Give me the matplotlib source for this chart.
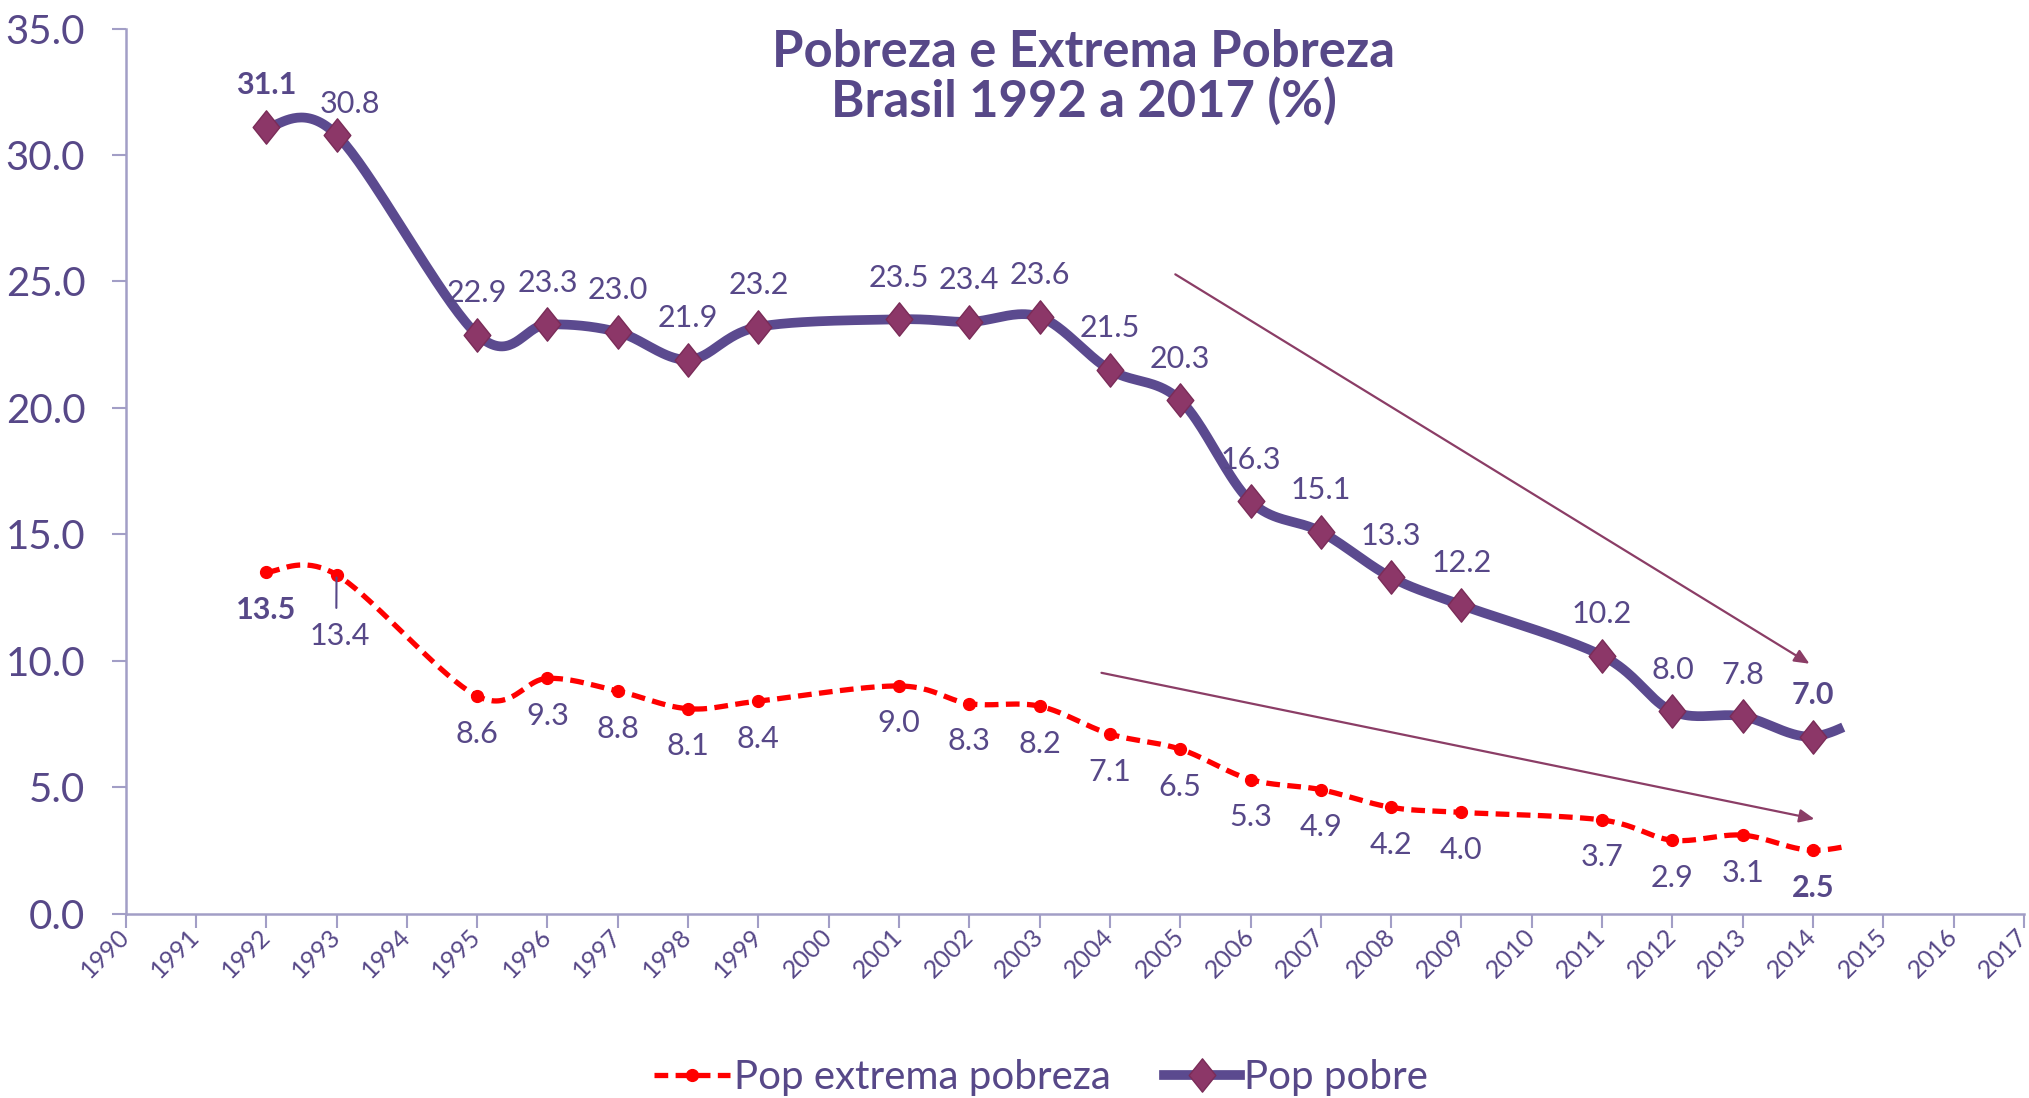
import numpy as np
import matplotlib
matplotlib.use('Agg')
import matplotlib.pyplot as plt
from matplotlib.lines import Line2D
from matplotlib.path import Path

plt.rcParams['font.family'] = ['Lato', 'DejaVu Sans']

# data
years = list(range(1990, 2018))
pobre_years = [1992, 1993, 1995, 1996, 1997, 1998, 1999, 2001, 2002, 2003, 2004,
               2005, 2006, 2007, 2008, 2009, 2011, 2012, 2013, 2014, 2015]
pop_pobre = [31.1, 30.8, 22.9, 23.3, 23.0, 21.9, 23.2, 23.5, 23.4, 23.6, 21.5,
             20.3, 16.3, 15.1, 13.3, 12.2, 10.2, 8.0, 7.8, 7.0, 8.2]
pop_extrema = [13.5, 13.4, 8.6, 9.3, 8.8, 8.1, 8.4, 9.0, 8.3, 8.2, 7.1,
               6.5, 5.3, 4.9, 4.2, 4.0, 3.7, 2.9, 3.1, 2.5, 3.0]
# the 2015 point is not shown, only the start of the curve towards it
last_shown = 2014
bold_years = [1992, 2014]

purple = '#574888'
line_purple = '#5B4A8F'
marker_col = '#8C3768'
red = '#FF0000'
axis_col = '#A29EC6'
arrow_col = '#8B3D66'


def smooth(xs, ys, n=40):
    # excel-like smoothed line (bezier through the points)
    pts = np.column_stack([xs, ys]).astype(float)
    out = []
    for i in range(len(pts) - 1):
        p0 = pts[i - 1] if i > 0 else pts[i]
        p1 = pts[i]
        p2 = pts[i + 1]
        p3 = pts[i + 2] if i + 2 < len(pts) else pts[i + 1]
        c1 = p1 + (p2 - p0) / 6
        c2 = p2 - (p3 - p1) / 6
        t = np.linspace(0, 1, n)[:, None]
        seg = (1 - t)**3 * p1 + 3 * (1 - t)**2 * t * c1 + 3 * (1 - t) * t**2 * c2 + t**3 * p2
        out.append(seg)
    return np.vstack(out)


xi = np.array([y - years[0] for y in pobre_years])
shown = np.array([y <= last_shown for y in pobre_years])
stub_end = (last_shown - years[0]) + 0.44

fig = plt.figure(figsize=(20.29, 10.98), dpi=100)
ax = fig.add_axes([0.0619, 0.168, 0.9356, 0.806])

diamond = Path([(0, 1), (0.8, 0), (0, -1), (-0.8, 0), (0, 1)],
               [Path.MOVETO, Path.LINETO, Path.LINETO, Path.LINETO, Path.CLOSEPOLY])

# extreme poverty
c = smooth(xi, pop_extrema)
c = c[c[:, 0] <= stub_end]
ax.plot(c[:, 0], c[:, 1], color=red, lw=3.8, dashes=(2.6, 1.4), zorder=3)
ax.plot(xi[shown], np.array(pop_extrema)[shown], 'o', color=red, ms=8.5, zorder=4)

# poverty
c = smooth(xi, pop_pobre)
c = c[c[:, 0] <= stub_end]
ax.plot(c[:, 0], c[:, 1], color=line_purple, lw=7, solid_capstyle='butt', zorder=3)
ax.plot(xi[shown], np.array(pop_pobre)[shown], linestyle='none', marker=diamond, ms=24,
        mfc=marker_col, mec='#7A2C58', mew=1, zorder=5)

# data labels
for yr, x, v, ok in zip(pobre_years, xi, pop_pobre, shown):
    if not ok:
        continue
    off = (10, 22) if yr == 1993 else (0, 30)
    ax.annotate(f'{v:.1f}', (x, v), xytext=off, textcoords='offset points',
                ha='center', va='center', fontsize=22, color=purple,
                fontweight='bold' if yr in bold_years else 'normal', zorder=6)

for yr, x, v, ok in zip(pobre_years, xi, pop_extrema, shown):
    if not ok:
        continue
    if yr == 1993:
        ax.annotate(f'{v:.1f}', (x, v), xytext=(2, -44), textcoords='offset points',
                    ha='center', va='center', fontsize=22, color=purple,
                    arrowprops=dict(arrowstyle='-', color=purple, lw=1.5,
                                    relpos=(0.45, 1), shrinkA=8, shrinkB=2), zorder=6)
        continue
    ax.annotate(f'{v:.1f}', (x, v), xytext=(0, -27), textcoords='offset points',
                ha='center', va='center', fontsize=22, color=purple,
                fontweight='bold' if yr in bold_years else 'normal', zorder=6)

# trend arrows
ax.annotate('', xy=(23.95, 9.88), xytext=(14.93, 25.28),
            arrowprops=dict(arrowstyle='-|>,head_length=0.9,head_width=0.4',
                            color=arrow_col, lw=1.6, shrinkA=0, shrinkB=0), zorder=2)
ax.annotate('', xy=(24.02, 3.74), xytext=(13.88, 9.52),
            arrowprops=dict(arrowstyle='-|>,head_length=0.9,head_width=0.4',
                            color=arrow_col, lw=1.6, shrinkA=0, shrinkB=0), zorder=2)

ax.set_xlim(0, len(years) - 1)
ax.set_ylim(0, 35)
ax.set_xticks(range(len(years)))
ax.set_xticklabels([str(y) for y in years], rotation=45, ha='right', va='center',
                   rotation_mode='anchor', fontsize=18, color=purple)
ax.set_yticks(np.arange(0, 36, 5))
ax.set_yticklabels([f'{v:.1f}' for v in np.arange(0, 36, 5)], fontsize=29, color=purple)
ax.tick_params(axis='x', length=10, width=1.5, color=axis_col, pad=4)
ax.tick_params(axis='y', length=10, width=1.5, color=axis_col, pad=19)
for s in ['top', 'right']:
    ax.spines[s].set_visible(False)
for s in ['left', 'bottom']:
    ax.spines[s].set_color(axis_col)
    ax.spines[s].set_linewidth(1.8)

fig.text(0.534, 0.9526, 'Pobreza e Extrema Pobreza', ha='center', va='center',
         fontsize=36.5, fontweight='bold', color=purple)
fig.text(0.534, 0.908, 'Brasil 1992 a 2017 (%)', ha='center', va='center',
         fontsize=36.5, fontweight='bold', color=purple)

handles = [Line2D([], [], color=red, lw=3.8, dashes=(2.6, 1.4), marker='o', ms=8.5),
           Line2D([], [], color=line_purple, lw=7, marker=diamond, ms=24,
                  mfc=marker_col, mec='#7A2C58')]
fig.legend(handles, ['Pop extrema pobreza', 'Pop pobre'], loc='center',
           bbox_to_anchor=(0.513, 0.019), ncol=2, frameon=False, fontsize=29,
           labelcolor=purple, handlelength=1.9, handletextpad=0.1, columnspacing=1.3)

fig.savefig('out.png', dpi=100)
